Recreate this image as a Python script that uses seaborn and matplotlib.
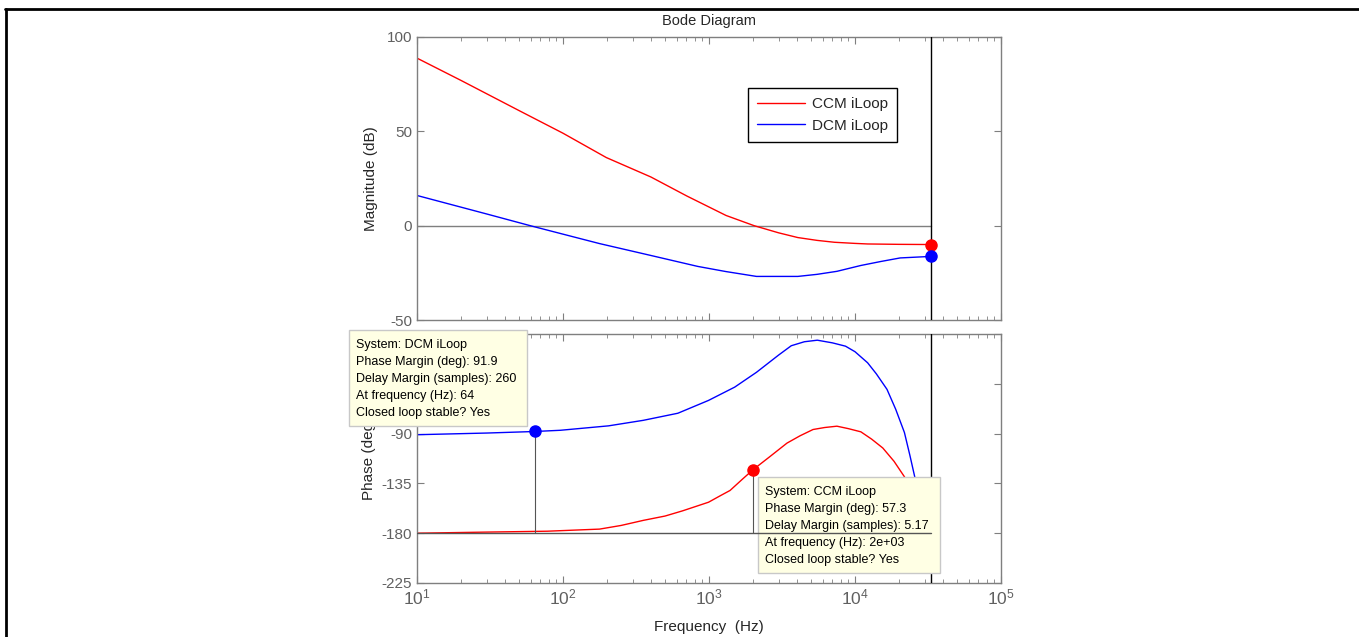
import numpy as np
import matplotlib
matplotlib.use("Agg")
import matplotlib.pyplot as plt
from matplotlib.lines import Line2D
from matplotlib.patches import Rectangle
from matplotlib.ticker import LogLocator, NullFormatter, FixedLocator
import seaborn as sns

sns.set_style("white")
plt.rcParams['font.family'] = ['Liberation Sans', 'DejaVu Sans']
plt.rcParams['mathtext.fontset'] = 'custom'
plt.rcParams['mathtext.rm'] = 'Liberation Sans'
plt.rcParams['axes.unicode_minus'] = False

# values
nyq = 3.3e4

ccm_mag_f = [10, 20, 50, 100, 198, 400, 706, 1309, 2036, 3000, 4057, 5500, 7230, 10000, 12200, 20000, 33000]
ccm_mag = [88.8, 77.0, 61.0, 49.0, 36.1, 25.8, 15.7, 5.4, 0.0, -3.8, -6.3, -7.8, -8.8, -9.4, -9.7, -9.9, -10.0]

dcm_mag_f = [10, 30, 59.6, 100, 178, 400, 838, 1300, 2115, 4057, 5500, 7520, 10970, 15000, 20400, 33000]
dcm_mag = [16.0, 6.2, 0.0, -4.5, -9.5, -15.8, -21.6, -24.3, -26.9, -26.9, -25.8, -24.2, -21.1, -19.0, -17.1, -16.3]

ccm_ph_f = [10, 30, 78, 178, 250, 355, 500, 659, 993, 1200, 1393, 1700, 2000, 2600, 3420, 4200, 5160,
            6200, 7520, 9000, 10970, 13000, 15500, 18500, 21800, 26000, 33000]
ccm_ph = [-180.0, -179.0, -178.2, -176.3, -173.0, -168.4, -164.5, -159.8, -152.0, -146.0, -141.4, -131.0,
          -122.7, -111.0, -98.6, -92.0, -86.3, -84.5, -83.3, -85.5, -88.4, -95.0, -103.0, -115.0, -129.0,
          -150.0, -185.0]

dcm_ph_f = [10, 30, 64, 96, 205, 355, 612, 993, 1500, 2115, 3000, 3660, 4500, 5520, 7000, 8610, 10000,
            12200, 14000, 16560, 19000, 21800, 23800, 25900, 30000, 33000]
dcm_ph = [-91.0, -89.5, -88.1, -87.0, -83.0, -78.0, -71.6, -60.0, -48.0, -34.6, -19.0, -10.6, -7.0, -5.6,
          -8.0, -11.0, -16.0, -26.0, -36.0, -50.0, -68.0, -89.0, -110.0, -131.5, -170.0, -195.0]

# margins (frequency, value)
ccm_gm = (nyq, -10.0)
dcm_gm = (nyq, -16.3)
ccm_pm = (2000, -122.7)
dcm_pm = (64, -88.1)

dcm_tip = ["System: DCM iLoop", "Phase Margin (deg): 91.9", "Delay Margin (samples): 260",
           "At frequency (Hz): 64", "Closed loop stable? Yes"]
ccm_tip = ["System: CCM iLoop", "Phase Margin (deg): 57.3", "Delay Margin (samples): 5.17",
           "At frequency (Hz): 2e+03", "Closed loop stable? Yes"]

W, H = 1359, 637
fig = plt.figure(figsize=(W / 100, H / 100), dpi=100)
ax1 = fig.add_axes([417 / W, 1 - 320 / H, 584 / W, 283 / H])
ax2 = fig.add_axes([417 / W, 1 - 583 / H, 584 / W, 249 / H])

grey = '#7f7f7f'
tickc = '#606060'

for ax in (ax1, ax2):
    ax.set_xscale('log')
    ax.set_xlim(10, 1e5)
    for s in ax.spines.values():
        s.set_color(grey)
        s.set_linewidth(1.0)
    ax.xaxis.set_major_locator(LogLocator(base=10, numticks=10))
    ax.xaxis.set_minor_locator(LogLocator(base=10, subs=np.arange(2, 10), numticks=20))
    ax.xaxis.set_minor_formatter(NullFormatter())
    ax.tick_params(which='both', direction='in', top=True, right=True, bottom=True, left=True,
                   color=grey, labelcolor=tickc, labelsize=11)
    ax.tick_params(which='major', length=5)
    ax.tick_params(which='minor', length=3)
    ax.axvline(nyq, color='black', lw=1, zorder=3)

# magnitude
sns.lineplot(x=ccm_mag_f, y=ccm_mag, ax=ax1, color='#ff0000', lw=1, label='CCM iLoop', estimator=None, sort=False)
sns.lineplot(x=dcm_mag_f, y=dcm_mag, ax=ax1, color='#0000ff', lw=1, label='DCM iLoop', estimator=None, sort=False)
ax1.plot([10, nyq], [0, 0], color=grey, lw=1, zorder=1)
ax1.plot(*ccm_gm, 'o', color='#ff0000', ms=8, zorder=6, clip_on=False)
ax1.plot(*dcm_gm, 'o', color='#0000ff', ms=8, zorder=6, clip_on=False)
ax1.set_ylim(-50, 100)
ax1.yaxis.set_major_locator(FixedLocator([-50, 0, 50, 100]))
ax1.set_xticklabels([])
ax1.set_xlabel('')
ax1.set_ylabel('Magnitude (dB)', fontsize=11, labelpad=6)
ax1.set_title('Bode Diagram', fontsize=10.5, pad=9)
leg = ax1.legend(loc='upper left', bbox_to_anchor=(748 / W, 1 - 88 / H), bbox_transform=fig.transFigure,
                 borderaxespad=0, fancybox=False, framealpha=1, edgecolor='black', fontsize=11,
                 handlelength=3.1, labelspacing=0.5, borderpad=0.6, handletextpad=0.5)
leg.get_frame().set_linewidth(1.0)

# phase
sns.lineplot(x=ccm_ph_f, y=ccm_ph, ax=ax2, color='#ff0000', lw=1, estimator=None, sort=False)
sns.lineplot(x=dcm_ph_f, y=dcm_ph, ax=ax2, color='#0000ff', lw=1, estimator=None, sort=False)
ax2.plot([10, nyq], [-180, -180], color='#555555', lw=1, zorder=8)
ax2.plot([ccm_pm[0], ccm_pm[0]], [-180, ccm_pm[1]], color='#555555', lw=0.8, zorder=4)
ax2.plot([dcm_pm[0], dcm_pm[0]], [-180, dcm_pm[1]], color='#555555', lw=0.8, zorder=4)
ax2.plot(*ccm_pm, 'o', color='#ff0000', ms=8, zorder=6)
ax2.plot(*dcm_pm, 'o', color='#0000ff', ms=8, zorder=6)
ax2.set_ylim(-225, 0)
ax2.yaxis.set_major_locator(FixedLocator([-225, -180, -135, -90, -45, 0]))
# labels for -45 and 0 sit under the data tip in the original
ax2.set_yticklabels(['-225', '-180', '-135', '-90', '', ''])
ax2.set_xticks([10, 100, 1000, 1e4, 1e5])
ax2.set_xticklabels([r'$\mathdefault{10^{%d}}$' % k for k in range(1, 6)], fontsize=12.5)
ax2.set_ylabel('Phase (deg)', fontsize=11, labelpad=4)
ax2.set_xlabel('Frequency  (Hz)', fontsize=11, labelpad=9)


def datatip(ax, box, lines, x0, y0):
    l, t, r, b = box
    ax.add_patch(Rectangle((l / W, 1 - b / H), (r - l) / W, (b - t) / H, transform=fig.transFigure,
                           facecolor='#ffffe4', edgecolor='#c8c8c8', lw=1, zorder=7, clip_on=False))
    for i, s in enumerate(lines):
        ax.text(x0 / W, 1 - (y0 + i * 17) / H, s, transform=fig.transFigure, fontsize=9,
                va='center', ha='left', zorder=9, color='black')


datatip(ax2, (349, 330, 527, 426), dcm_tip, 356, 345)
datatip(ax2, (758, 477, 940, 573), ccm_tip, 765, 492)

# outer frame
fig.add_artist(Line2D([5 / W, 1], [1 - 9 / H, 1 - 9 / H], color='black', lw=2, transform=fig.transFigure))
fig.add_artist(Line2D([6 / W, 6 / W], [0, 1 - 9 / H], color='black', lw=2, transform=fig.transFigure))

fig.savefig('out.png', dpi=100)
